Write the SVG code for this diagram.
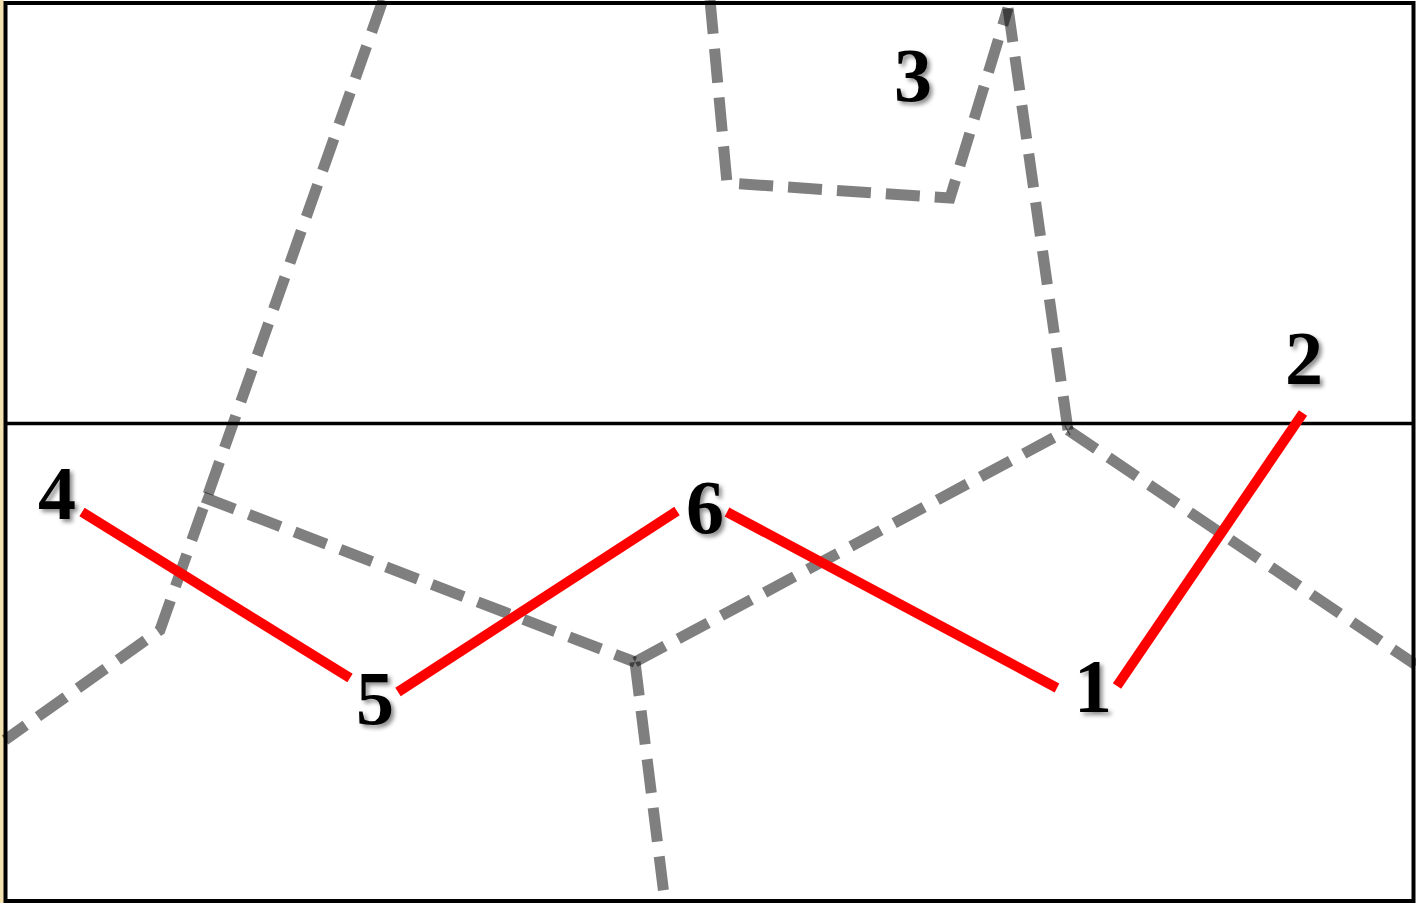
<svg xmlns="http://www.w3.org/2000/svg" width="1416" height="903" viewBox="0 0 1416 903">
<defs>
<filter id="sh" x="-30%" y="-30%" width="160%" height="160%">
<feDropShadow dx="3" dy="3" stdDeviation="2" flood-color="#000" flood-opacity="0.45"/>
</filter>
<style>
.frame{fill:none;stroke:#000;stroke-width:4}
.div{stroke:#000;stroke-width:3.5}
.g{fill:none;stroke:#000;stroke-opacity:0.5;stroke-width:11;stroke-dasharray:34 15}
.r{fill:none;stroke:#ff0000;stroke-width:10}
.lbl{font-family:"Liberation Serif",serif;font-weight:bold;font-size:76px;fill:#000;text-anchor:middle;filter:url(#sh)}
</style>
</defs>
<rect x="0" y="0" width="1416" height="903" fill="#fff"/>
<rect x="0" y="0" width="4" height="903" fill="#f3e2b0"/>
<g id="frame">
<rect class="frame" x="5.5" y="3" width="1408" height="898"/>
<line class="div" x1="5" y1="423.5" x2="1414" y2="423.5"/>
</g>
<g id="boundaries">
<polyline class="g" points="383,0 160,630 5,740"/>
<polyline class="g" points="203,497 635,662"/>
<polyline class="g" points="635,662 1068,430"/>
<polyline class="g" points="635,662 665,903"/>
<polyline class="g" points="1068,430 1008,8"/>
<polyline class="g" points="1068,430 1416,665"/>
<polyline class="g" points="710,0 727,183 950,198 1008,8"/>
</g>
<g id="connectors">
<line class="r" x1="82" y1="512" x2="350" y2="678"/>
<line class="r" x1="398" y1="692" x2="677" y2="511"/>
<line class="r" x1="727" y1="512" x2="1057" y2="688"/>
<line class="r" x1="1117" y1="686" x2="1303" y2="413"/>
</g>
<g id="n1"><text class="lbl" x="1093" y="712">1</text></g>
<g id="n2"><text class="lbl" x="1304" y="384">2</text></g>
<g id="n3"><text class="lbl" x="913" y="101">3</text></g>
<g id="n4"><text class="lbl" x="57" y="519">4</text></g>
<g id="n5"><text class="lbl" x="375" y="724">5</text></g>
<g id="n6"><text class="lbl" x="705" y="533">6</text></g>
</svg>
